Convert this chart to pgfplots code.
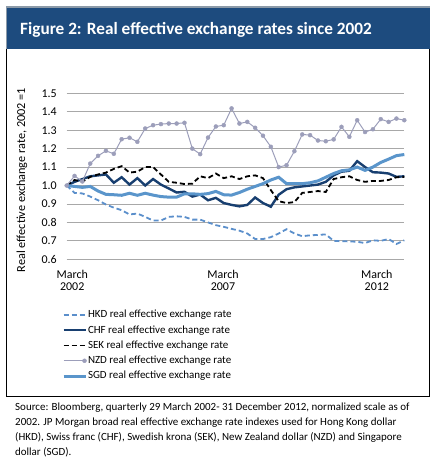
\documentclass[border=0pt]{standalone}
\usepackage{fontspec}
\setmainfont{Carlito}
\usepackage{pgfplots}
\usepackage{pgfplotstable}
\pgfplotsset{compat=1.18}
\definecolor{band}{HTML}{1D4B7E}
\definecolor{bandedge}{HTML}{8C9AA8}
\definecolor{gridgray}{HTML}{A8A8A8}
\definecolor{hkd}{HTML}{5B8FCB}
\definecolor{chf}{HTML}{183F70}
\definecolor{nzd}{HTML}{9C9EBA}
\definecolor{sgd}{HTML}{5A95CB}
\pgfplotsset{
  linelegend/.style={legend image code/.code={\draw[##1] (0bp,0bp) -- (22bp,0bp);}},
  marklegend/.style={legend image code/.code={\draw[##1, mark=none] (0bp,0bp) -- (22bp,0bp); \draw[##1] plot coordinates {(21bp,0bp)};}},
}
\pgfplotstableread{
i hkd chf sek nzd sgd
0 1.000 1.000 1.000 1.000 1.000
1 0.960 1.020 1.030 1.052 0.995
2 0.957 1.035 1.020 1.022 0.990
3 0.940 1.050 1.047 1.119 0.995
4 0.920 1.055 1.060 1.161 0.970
5 0.897 1.060 1.070 1.188 0.952
6 0.880 1.015 1.090 1.172 0.950
7 0.866 1.045 1.105 1.251 0.947
8 0.843 1.005 1.070 1.259 0.958
9 0.848 1.040 1.075 1.237 0.947
10 0.830 1.000 1.100 1.309 0.958
11 0.810 1.035 1.100 1.327 0.948
12 0.810 1.005 1.060 1.333 0.940
13 0.830 0.984 1.020 1.336 0.937
14 0.833 0.962 1.015 1.336 0.937
15 0.830 0.966 1.008 1.340 0.955
16 0.815 0.940 1.010 1.200 0.955
17 0.815 0.951 1.050 1.170 0.952
18 0.800 0.920 1.040 1.260 0.956
19 0.785 0.933 1.065 1.320 0.968
20 0.776 0.905 1.040 1.327 0.950
21 0.765 0.895 1.050 1.418 0.948
22 0.755 0.887 1.035 1.336 0.962
23 0.740 0.895 1.050 1.345 0.980
24 0.710 0.935 1.055 1.313 0.995
25 0.710 0.905 1.040 1.270 1.010
26 0.720 0.885 0.975 1.210 1.030
27 0.740 0.950 0.915 1.100 1.045
28 0.763 0.980 0.905 1.110 1.010
29 0.740 0.990 0.910 1.186 1.010
30 0.725 0.995 0.960 1.277 1.010
31 0.730 1.000 0.965 1.273 1.015
32 0.732 1.005 0.970 1.244 1.025
33 0.735 1.020 0.965 1.240 1.045
34 0.700 1.055 1.035 1.250 1.065
35 0.698 1.075 1.045 1.318 1.080
36 0.697 1.080 1.050 1.264 1.085
37 0.695 1.132 1.030 1.354 1.100
38 0.688 1.100 1.020 1.290 1.082
39 0.703 1.072 1.025 1.305 1.100
40 0.700 1.070 1.025 1.360 1.125
41 0.710 1.065 1.030 1.345 1.143
42 0.683 1.047 1.045 1.363 1.162
43 0.703 1.050 1.047 1.354 1.168
}\datatable
\begin{document}
\begin{tikzpicture}[x=1bp,y=1bp]
\path[use as bounding box] (0,0) rectangle (437,470);
% title band
\fill[band] (6,421) rectangle (430,463);
\draw[bandedge, line width=1.6bp] (6,463.2) -- (430,463.2);
\draw[bandedge, line width=1bp] (6.5,421) -- (6.5,463);
\draw[black, line width=0.9bp] (6.5,421) -- (6.5,73.5) -- (429.5,73.5) -- (429.5,421);
\node[anchor=base west, inner sep=0pt, text=white, font=\fontsize{17.3}{19}\selectfont\bfseries] at (20,435.7) {Figure 2: Real effective exchange rates since 2002};
% y label
\node[rotate=90, inner sep=0pt, font=\fontsize{12.3}{12.3}\selectfont] at (22,290) {Real effective exchange rate, 2002 =1};
% source
\node[anchor=north west, inner sep=0pt, align=left, font=\fontsize{11}{15}\selectfont] at (15,67) {Source: Bloomberg, quarterly 29 March 2002- 31 December 2012, normalized scale as of\\2002. JP Morgan broad real effective exchange rate indexes used for Hong Kong dollar\\(HKD), Swiss franc (CHF), Swedish krona (SEK), New Zealand dollar (NZD) and Singapore\\dollar (SGD).};
\begin{axis}[
  at={(66.7bp,210.7bp)}, anchor=south west,
  scale only axis, width=337.6bp, height=166bp,
  xmin=0, xmax=43, ymin=0.6, ymax=1.5,
  clip=false,
  axis line style={draw=none},
  major tick length=0pt,
  ytick={0.6,0.7,0.8,0.9,1.0,1.1,1.2,1.3,1.4,1.5},
  xtick={0.7,19.9,39.5},
  xticklabels={{March\\2002},{March\\2007},{March\\2012}},
  ymajorgrids,
  major grid style={draw=gridgray, line width=0.8bp},
  /pgf/number format/assume math mode=true,
  yticklabel style={/pgf/number format/.cd, fixed, fixed zerofill, precision=1, /tikz/.cd, inner sep=0pt, xshift=-9.7bp},
  tick label style={font=\fontsize{12}{12.5}\selectfont},
  xticklabel style={align=center, inner sep=0pt, anchor=north, yshift=-10.5bp},
  legend cell align=left,
  legend style={at={(axis description cs:-0.0139,-0.304)}, anchor=north west,
    draw=none, fill=none, inner sep=0pt, outer sep=0pt,
    row sep=4.75bp, column sep=0bp,
    font=\fontsize{11}{12}\selectfont,
    nodes={inner xsep=1bp, inner ysep=0pt, text height=8bp, text depth=2.5bp}},
  linelegend,
]
\addplot[hkd, line width=1.8bp, dash pattern=on 5bp off 3bp] table[x=i, y=hkd] {\datatable};
\addlegendentry{HKD real effective exchange rate}
\addplot[chf, line width=2.4bp] table[x=i, y=chf] {\datatable};
\addlegendentry{CHF real effective exchange rate}
\addplot[black, line width=1.8bp, dash pattern=on 5bp off 3bp] table[x=i, y=sek] {\datatable};
\addlegendentry{SEK real effective exchange rate}
\addplot[nzd, line width=1bp, mark=*, mark size=2bp, mark options={solid, fill=nzd, draw=nzd, line width=0.4bp}, marklegend] table[x=i, y=nzd] {\datatable};
\addlegendentry{NZD real effective exchange rate}
\addplot[sgd, line width=3bp] table[x=i, y=sgd] {\datatable};
\addlegendentry{SGD real effective exchange rate}
\end{axis}
\end{tikzpicture}
\end{document}
